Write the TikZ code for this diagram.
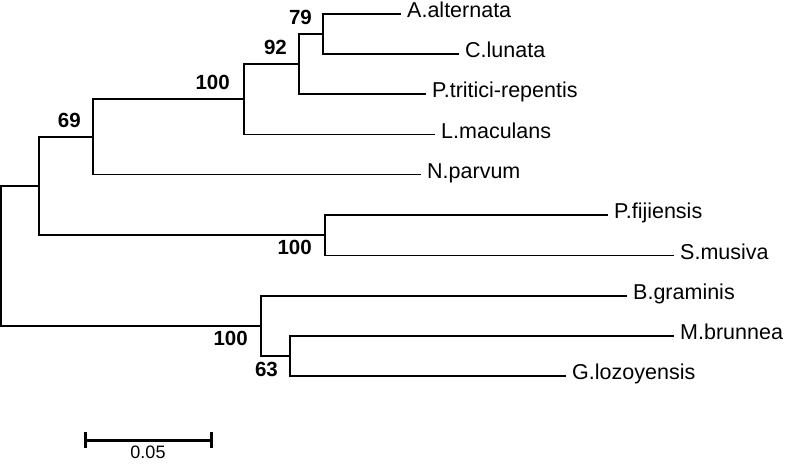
\documentclass[tikz,border=0pt]{standalone}
\usepackage{fontspec}
\setmainfont{Liberation Sans}
\usetikzlibrary{positioning}

\begin{document}
\begin{tikzpicture}[x=1pt, y=-1pt,
    branch/.style={line width=1.6pt},
    leaf/.style={anchor=west, inner xsep=6pt, inner ysep=0pt, text height=0.72em, text depth=0pt, font=\fontsize{21.5}{24}\selectfont},
    boot/.style={inner sep=0pt, text height=0.72em, text depth=0pt, font=\fontsize{20.5}{24}\selectfont\bfseries},
    scalebar/.style={line width=3pt},
    scalelabel/.style={inner sep=0pt, text height=0.72em, text depth=0pt, font=\fontsize{18}{20}\selectfont}]
  \useasboundingbox (0,0) rectangle (786,469);
  % internal nodes
  \coordinate (r) at (1,256);
  \coordinate (n1) at (39,186);
  \coordinate (n2) at (93,137);
  \coordinate (n3) at (244,99);
  \coordinate (n4) at (299,64);
  \coordinate (n5) at (323,34);
  \coordinate (n6) at (325,235);
  \coordinate (n7) at (261,326);
  \coordinate (n8) at (290,356);
  % leaves
  \node[leaf] (aalt) at (401,14) {A.alternata};
  \node[leaf] (clun) at (459,54) {C.lunata};
  \node[leaf] (ptri) at (426,94) {P.tritici-repentis};
  \node[leaf] (lmac) at (435,134.5) {L.maculans};
  \node[leaf] (npar) at (421,174.5) {N.parvum};
  \node[leaf] (pfij) at (608,215) {P.fijiensis};
  \node[leaf] (smus) at (674,255.5) {S.musiva};
  \node[leaf] (bgra) at (627,296) {B.graminis};
  \node[leaf] (mbru) at (674,336) {M.brunnea};
  \node[leaf] (gloz) at (566,376) {G.lozoyensis};
  % branches
  \draw[branch] (r) |- (n1); \draw[branch] (r) |- (n7);
  \draw[branch] (n1) |- (n2); \draw[branch] (n1) |- (n6);
  \draw[branch] (n2) |- (n3); \draw[branch] (n2) |- (npar.west);
  \draw[branch] (n3) |- (n4); \draw[branch] (n3) |- (lmac.west);
  \draw[branch] (n4) |- (n5); \draw[branch] (n4) |- (ptri.west);
  \draw[branch] (n5) |- (aalt.west); \draw[branch] (n5) |- (clun.west);
  \draw[branch] (n6) |- (pfij.west); \draw[branch] (n6) |- (smus.west);
  \draw[branch] (n7) |- (bgra.west); \draw[branch] (n7) |- (n8);
  \draw[branch] (n8) |- (mbru.west); \draw[branch] (n8) |- (gloz.west);
  % bootstrap values
  \node[boot, above left=9pt and 11pt of n5] (b79) {79};
  \node[boot, above left=9pt and 12pt of n4] (b92) {92};
  \node[boot, above left=9pt and 14pt of n3] (b100a) {100};
  \node[boot, above left=9pt and 12pt of n2] (b69) {69};
  \node[boot, below left=12pt and 13pt of n6] (b100b) {100};
  \node[boot, below left=12pt and 13pt of n7] (b100c) {100};
  \node[boot, below left=13pt and 12pt of n8] (b63) {63};
  % scale bar
  \coordinate (sbl) at (85,440);
  \coordinate (sbr) at (211,440);
  \coordinate (sbm) at (148,440);
  \draw[scalebar] ([yshift=8pt]sbl) -- ([yshift=-8pt]sbl) (sbl) -- (sbr)
    ([yshift=8pt]sbr) -- ([yshift=-8pt]sbr);
  \node[scalelabel, below=11.5pt of sbm] (sblab) {0.05};
\end{tikzpicture}
\end{document}
